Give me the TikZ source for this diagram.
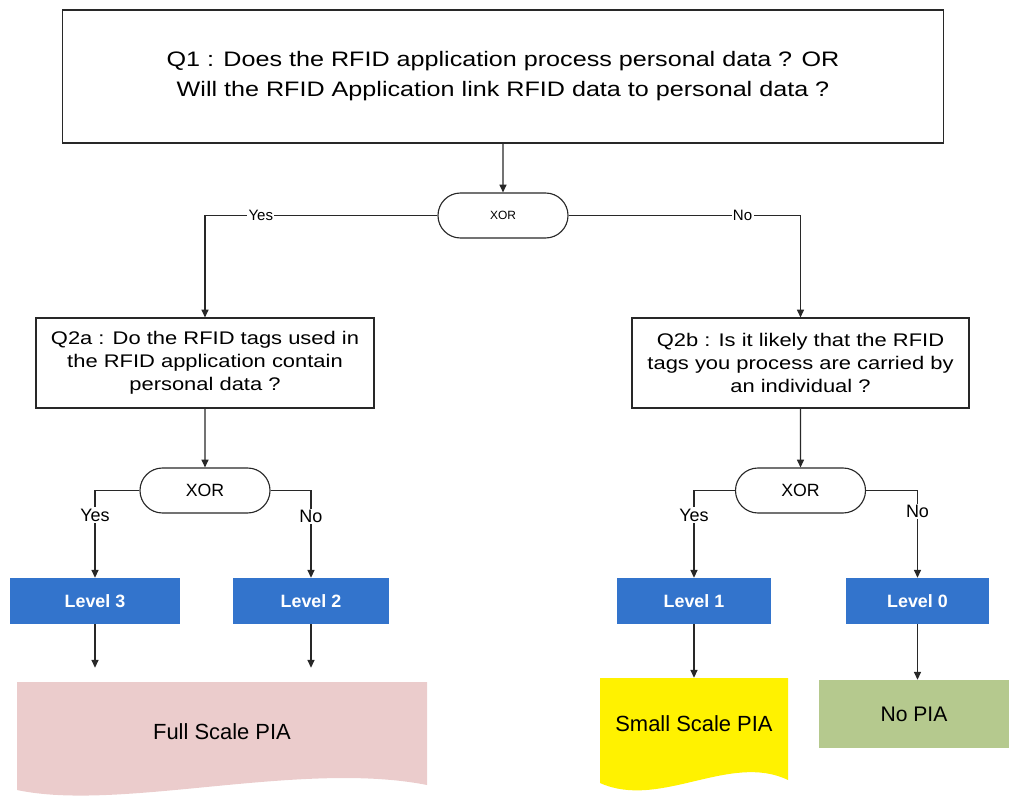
\documentclass[tikz,border=0pt]{standalone}
\usepackage{fontspec}
\setmainfont{Liberation Sans}
\newfontfamily\widefont[FakeStretch=1.2]{Liberation Sans}
\usetikzlibrary{arrows.meta,positioning,shapes.misc}
\definecolor{levelblue}{RGB}{51,116,204}
\definecolor{fullpink}{RGB}{235,204,204}
\definecolor{nogreen}{RGB}{181,201,142}
\definecolor{lineclr}{RGB}{40,40,40}

\begin{document}
\begin{tikzpicture}[
      x=0.025cm,y=-0.025cm,
      mybox/.style={
         rectangle,
         draw=lineclr,
         line width=0.8pt,
         align=center,
         inner sep=0pt},
      myxor/.style={
         rounded rectangle,
         draw=lineclr,
         line width=0.8pt,
         fill=white,
         inner sep=0pt,
         minimum width=3.25cm,
         minimum height=1.125cm},
      mylevel/.style={
         rectangle,
         fill=levelblue,
         text=white,
         inner sep=0pt,
         minimum height=1.15cm,
         font=\fontsize{12.7}{15}\selectfont\bfseries},
      mytext/.style={
         rectangle,
         align=center,
         font=\fontsize{15.6}{18}\selectfont},
      mylabel/.style={
         fill=white,
         inner sep=1pt},
      myarrow/.style={
         draw=lineclr,
         line width=0.8pt,
         -{Triangle[length=5.5pt,width=5pt]}}
      ]
      \useasboundingbox (0,0) rectangle (1009,800);
      % questions and decisions
      \node[mybox,minimum width=22cm,minimum height=3.325cm,
            font=\widefont\fontsize{14.9}{21.3}\selectfont] (q1) at (503,76.5)
            {Q1 : Does the RFID application process personal data ? OR\\
             Will the RFID Application link RFID data to personal data ?};
      \node[myxor,font=\fontsize{8.5}{10}\selectfont] (xor1) at (503,215.5) {XOR};
      \node[mybox,minimum width=8.45cm,minimum height=2.25cm,
            font=\widefont\fontsize{13}{16.4}\selectfont] (q2a) at (205,363)
            {Q2a : Do the RFID tags used in\\ the RFID application contain\\ personal data ?};
      \node[mybox,minimum width=8.425cm,minimum height=2.25cm,
            font=\widefont\fontsize{13}{16.4}\selectfont] (q2b) at (800.5,363)
            {Q2b : Is it likely that the RFID\\ tags you process are carried by\\ an individual ?};
      \node[myxor,font=\fontsize{12.6}{15}\selectfont] (xor2) at (205,490.5) {XOR};
      \node[myxor,font=\fontsize{12.6}{15}\selectfont] (xor3) at (800.5,490.5) {XOR};
      % levels
      \node[mylevel,minimum width=4.25cm] (lvl3) at (95,601) {Level 3};
      \node[mylevel,minimum width=3.9cm] (lvl2) at (311,601) {Level 2};
      \node[mylevel,minimum width=3.85cm] (lvl1) at (694,601) {Level 1};
      \node[mylevel,minimum width=3.575cm] (lvl0) at (917.5,601) {Level 0};
      % outcomes
      \fill[fullpink] (17,682) -- (427,682) -- (427,785)
            .. controls (300,760) and (120,812) .. (17,790) -- cycle;
      \fill[yellow] (600,678) -- (788,678) -- (788,780)
            .. controls (730,752) and (660,810) .. (600,783) -- cycle;
      \node[mytext,minimum width=10.25cm,minimum height=2.5cm] (full) at (222,732) {Full Scale PIA};
      \node[mytext,minimum width=4.7cm,minimum height=2.3cm] (small) at (694,724) {Small Scale PIA};
      \node[mytext,fill=nogreen,minimum width=4.75cm,minimum height=1.7cm,
            font=\fontsize{15}{18}\selectfont] (nopia) at (914,714) {No PIA};
      % connectors
      \draw[myarrow] (q1) -- (xor1);
      \draw[myarrow] (q2a) -- (xor2);
      \draw[myarrow] (q2b) -- (xor3);
    \foreach \i/\j/\txt/\p/\fs in {% start/end node/text/position/font size
      xor1.west/q2a/Yes/0.38/10.7,
      xor1.east/q2b/No/0.375/10.7,
      xor2.west/lvl3/Yes/0.64/12.8,
      xor2.east/lvl2/No/0.65/12.8,
      xor3.west/lvl1/Yes/0.64/12.8,
      xor3.east/lvl0/No/0.62/12.8}
       \draw[myarrow] (\i) -| node[mylabel,pos=\p,font=\fontsize{\fs}{\fs}\selectfont] {\txt} (\j.north);
      \draw[myarrow,shorten >=0.35cm] (lvl3.south) -- (lvl3.south |- full.north);
      \draw[myarrow,shorten >=0.35cm] (lvl2.south) -- (lvl2.south |- full.north);
      \draw[myarrow] (lvl1.south) -- (lvl1.south |- small.north);
      \draw[myarrow] (lvl0.south) -- (lvl0.south |- nopia.north);
\end{tikzpicture}
\end{document}
